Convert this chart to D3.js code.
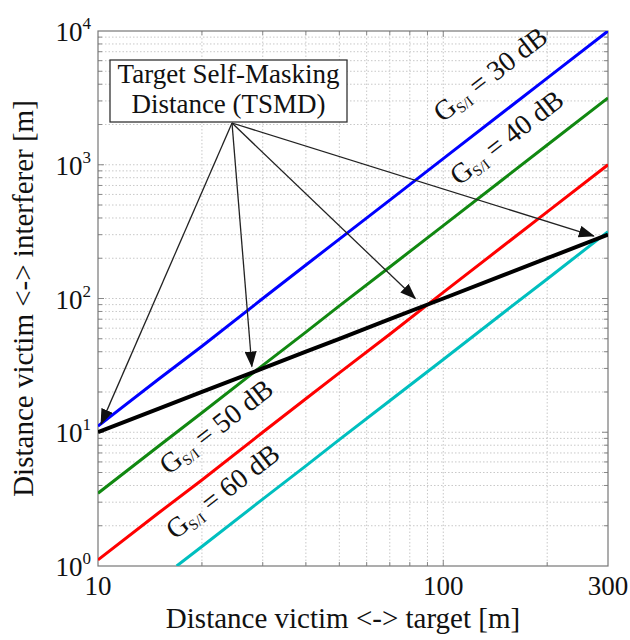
<!DOCTYPE html>
<html><head><meta charset="utf-8">
<script src="https://cdn.jsdelivr.net/npm/d3@7"></script>
<style>body{margin:0;background:#fff}</style></head><body>
<svg id="c" width="630" height="640"></svg>
<script>
// ---- data ----
const xTickValues = [10, 100, 300];
const yTickExponents = [0, 1, 2, 3, 4];
const xDist = [10, 15, 20, 30, 40, 50, 70, 100, 150, 200, 300];
const g30 = [11.1, 25, 44, 100, 178, 278, 544, 1110, 2500, 4440, 10000];
const g40 = [3.5, 7.9, 14, 31.6, 56, 88, 172, 351, 790, 1405, 3160];
const g50 = [1.11, 2.5, 4.4, 10, 17.8, 27.8, 54, 111, 250, 444, 1000];
const xCyan = [16.9, 20, 30, 40, 50, 70, 100, 150, 200, 300];
const g60 = [1.0, 1.4, 3.16, 5.6, 8.8, 17.2, 35, 79, 140, 316];
const tsmd = [10, 15, 20, 30, 40, 50, 70, 100, 150, 200, 300];
const seriesLabels = ["30 dB", "40 dB", "50 dB", "60 dB"];
const arrowTips = [[10.2, 11.5], [27.9, 31], [83, 100], [273, 293]];
const labelAnchors = [[99.5, 2050], [111, 690], [16.0, 4.75], [16.7, 1.56]];

// ---- layout ----
const L = 98, R = 608, T = 31, B = 566;
const svg = d3.select("#c");
const x = d3.scaleLog().domain([10, 300]).range([L, R]);
const y = d3.scaleLog().domain([1, 10000]).range([B, T]);
const serif = "'Liberation Serif','Times New Roman',serif";

// grid
const xGrid = [20,30,40,50,60,70,80,90,100,200];
const yGrid = [];
for (let e = 0; e < 4; e++) for (let k = 1; k <= 9; k++) { if (!(e===0&&k===1)) yGrid.push(k*Math.pow(10,e)); }
const grid = svg.append("g").attr("stroke", "#c8c8c8").attr("stroke-width", 1).attr("stroke-dasharray", "1.5,2");
grid.selectAll(".gx").data(xGrid).join("line").attr("x1", d=>x(d)).attr("x2", d=>x(d)).attr("y1", T).attr("y2", B);
grid.selectAll(".gy").data(yGrid).join("line").attr("x1", L).attr("x2", R).attr("y1", d=>y(d)).attr("y2", d=>y(d));

// ticks on all sides
const tk = svg.append("g").attr("stroke", "#888").attr("stroke-width", 1);
xGrid.forEach(v => {
  const len = (v===100) ? 6 : 4;
  tk.append("line").attr("x1", x(v)).attr("x2", x(v)).attr("y1", B).attr("y2", B-len);
  tk.append("line").attr("x1", x(v)).attr("x2", x(v)).attr("y1", T).attr("y2", T+len);
});
yGrid.forEach(v => {
  const len = (Math.log10(v)%1===0) ? 6 : 4;
  tk.append("line").attr("x1", L).attr("x2", L+len).attr("y1", y(v)).attr("y2", y(v));
  tk.append("line").attr("x1", R).attr("x2", R-len).attr("y1", y(v)).attr("y2", y(v));
});

// frame
svg.append("rect").attr("x", L).attr("y", T).attr("width", R-L).attr("height", B-T)
  .attr("fill", "none").attr("stroke", "#777").attr("stroke-width", 1.2);

// clip
svg.append("clipPath").attr("id", "clip").append("rect").attr("x", L).attr("y", T).attr("width", R-L).attr("height", B-T);

const line = d3.line().x(d=>x(d[0])).y(d=>y(d[1]));
const lines = svg.append("g").attr("clip-path", "url(#clip)").attr("fill", "none");
const series = [
  {xs: xDist, ys: g30, c: "#0000ff", w: 3},
  {xs: xDist, ys: g40, c: "#118811", w: 3},
  {xs: xDist, ys: g50, c: "#ff0000", w: 3},
  {xs: xCyan, ys: g60, c: "#00bfbf", w: 3},
  {xs: xDist, ys: tsmd, c: "#000000", w: 4}
];
series.forEach(s => {
  lines.append("path").datum(s.xs.map((v,i)=>[v, s.ys[i]]))
    .attr("d", line).attr("stroke", s.c).attr("stroke-width", s.w).attr("stroke-linejoin","round");
});

// series labels
const angle = -Math.atan2(y(1)-y(100), x(100)-x(10)) * 180/Math.PI;
labelAnchors.forEach((a, i) => {
  const t = svg.append("text").attr("font-family", serif).attr("font-size", 28).attr("fill", "#111")
    .attr("transform", `translate(${x(a[0])},${y(a[1])}) rotate(${angle})`);
  t.append("tspan").text("G");
  t.append("tspan").attr("font-size", 15).attr("dy", 4).text("S/I");
  t.append("tspan").attr("dy", -4).text(" = " + seriesLabels[i]);
});

// annotation box
const bx = 110, by = 60, bw = 237, bh = 62;
svg.append("rect").attr("x", bx).attr("y", by).attr("width", bw).attr("height", bh)
  .attr("fill", "#fff").attr("stroke", "#333").attr("stroke-width", 1.3);
svg.append("text").attr("x", bx+bw/2).attr("y", by+23).attr("text-anchor","middle")
  .attr("font-family", serif).attr("font-size", 27).attr("fill","#111").text("Target Self-Masking");
svg.append("text").attr("x", bx+bw/2).attr("y", by+53).attr("text-anchor","middle")
  .attr("font-family", serif).attr("font-size", 27).attr("fill","#111").text("Distance (TSMD)");

// arrows
const ox = 232, oy = 123;
svg.append("defs").append("marker").attr("id","ah").attr("markerUnits","userSpaceOnUse")
  .attr("markerWidth", 16).attr("markerHeight", 12).attr("refX", 15).attr("refY", 6).attr("orient","auto")
  .append("path").attr("d","M0,0 L16,6 L0,12 Z").attr("fill","#111");
arrowTips.forEach(p => {
  svg.append("line").attr("x1", ox).attr("y1", oy).attr("x2", x(p[0])).attr("y2", y(p[1]))
    .attr("stroke", "#222").attr("stroke-width", 1.3).attr("marker-end","url(#ah)");
});

// x tick labels
svg.selectAll(".xt").data(xTickValues).join("text")
  .attr("x", d=>x(d)).attr("y", 595).attr("text-anchor","middle")
  .attr("font-family", serif).attr("font-size", 27).attr("fill","#111").text(d=>d);

// y tick labels
yTickExponents.forEach(e => {
  const t = svg.append("text").attr("x", 91).attr("y", y(Math.pow(10,e)) + 10).attr("text-anchor","end")
    .attr("font-family", serif).attr("font-size", 27).attr("fill","#111");
  t.append("tspan").text("10");
  t.append("tspan").attr("font-size", 17).attr("dy", -12).text(e);
});

// axis titles
svg.append("text").attr("x", (L+R)/2 - 10).attr("y", 628).attr("text-anchor","middle")
  .attr("font-family", serif).attr("font-size", 29).attr("fill","#111").text("Distance victim <-> target [m]");
svg.append("text").attr("transform", `translate(33,${(T+B)/2}) rotate(-90)`).attr("text-anchor","middle")
  .attr("font-family", serif).attr("font-size", 29).attr("fill","#111").text("Distance victim <-> interferer [m]");
</script>
</body></html>
